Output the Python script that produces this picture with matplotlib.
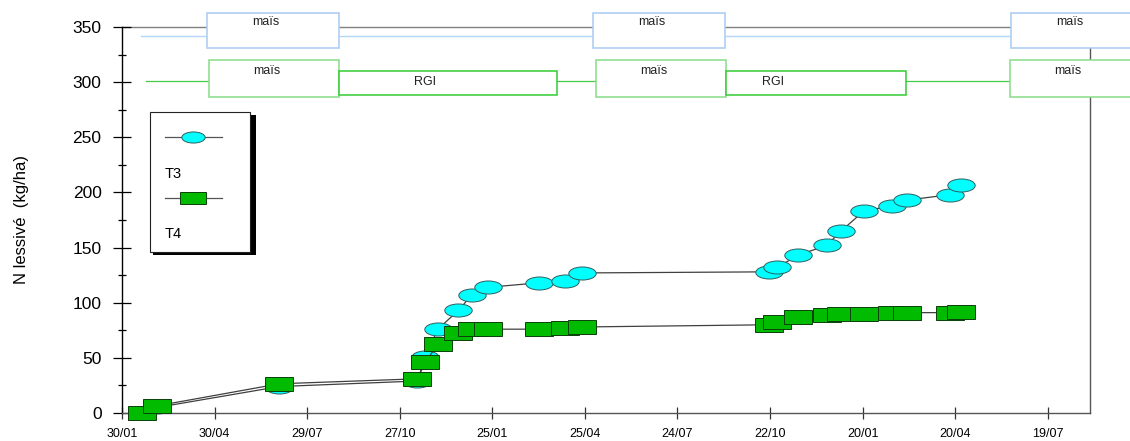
import matplotlib
matplotlib.use("Agg")
import matplotlib.pyplot as plt
import matplotlib.dates as mdates
from matplotlib.markers import MarkerStyle
from matplotlib.transforms import Affine2D
from matplotlib.patches import Rectangle
from matplotlib.lines import Line2D
import numpy as np

plt.rcParams["font.family"] = ["Liberation Sans", "DejaVu Sans"]

# ── data ─────────────────────────────────────────────────────────────────────
dates = ["1997-02-18", "1997-03-05", "1997-07-02", "1997-11-13", "1997-11-21",
         "1997-12-03", "1997-12-23", "1998-01-05", "1998-01-21", "1998-03-11",
         "1998-04-06", "1998-04-22", "1998-10-21", "1998-10-29", "1998-11-18",
         "1998-12-16", "1998-12-30", "1999-01-21", "1999-02-18", "1999-03-04",
         "1999-04-15", "1999-04-26"]
t3 = [0, 5, 24, 29, 51, 76, 93, 107, 114, 118, 120, 127,
      128, 132, 143, 152, 165, 183, 188, 193, 198, 207]
t4 = [0, 6.5, 26.5, 31, 46, 62.5, 72.5, 76, 76, 76, 77, 78,
      80, 82.5, 87, 89, 90, 90, 90.5, 91, 91, 92]

tick_dates = ["1997-01-30", "1997-04-30", "1997-07-29", "1997-10-27",
              "1998-01-25", "1998-04-25", "1998-07-24", "1998-10-22",
              "1999-01-20", "1999-04-20", "1999-07-19"]

# crop rotation rows: (label, start, end, label offset in days)
crops_t3 = [("maïs", "1997-04-23", "1997-08-29", 57),
            ("maïs", "1998-05-03", "1998-09-08", 57),
            ("maïs", "1999-06-13", "1999-10-20", 57)]
crops_t4 = [("maïs", "1997-04-25", "1997-08-29", 56),
            ("RGI", "1997-08-29", "1998-03-29", 84),
            ("maïs", "1998-05-06", "1998-09-09", 56),
            ("RGI", "1998-09-09", "1999-03-03", 46),
            ("maïs", "1999-06-12", "1999-10-20", 56)]

W, H = 1130, 441
fig = plt.figure(figsize=(W / 100, H / 100), dpi=100)
ax = fig.add_axes([122 / W, 28 / H, (1090 - 122) / W, (413 - 27) / H])

x = mdates.datestr2num(dates)

ell = MarkerStyle("o", transform=Affine2D().scale(2.1, 1.0))
sq = MarkerStyle("s", transform=Affine2D().scale(2.0, 1.0))

ax.plot(x, t3, color="#404040", lw=0.9, marker=ell, ms=9.4,
        mfc="#00ffff", mec="#2f5f5f", mew=0.7, zorder=3, clip_on=False)
ax.plot(x, t4, color="#404040", lw=0.9, marker=sq, ms=9.8,
        mfc="#00bb00", mec="#0a400a", mew=0.7, zorder=4, clip_on=False)

x0 = mdates.datestr2num("1997-01-30")
x1 = mdates.datestr2num("1999-08-29")
ax.set_xlim(x0, x1)
ax.set_ylim(0, 350)

# ── crop rotation timeline on top ────────────────────────────────────────────
far = mdates.datestr2num("2000-03-01")
ax.plot([x0, far], [350, 350], color="#808080", lw=1, clip_on=False, zorder=1)
ax.plot([mdates.datestr2num("1997-02-17"), far], [342, 342],
        color="#b4d6f8", lw=1, clip_on=False, zorder=1)
ax.plot([mdates.datestr2num("1997-02-22"), far], [301, 301],
        color="#44cc44", lw=0.9, clip_on=False, zorder=1)

for lab, s, e, off in crops_t3:
    a, b = mdates.datestr2num([s, e])
    ax.add_patch(Rectangle((a, 331), b - a, 31.5, fc="white", ec="#a8ccf4",
                           lw=1.1, clip_on=False, zorder=5))
    ax.text(a + off, 354.5, lab, fontsize=9, ha="center", va="center",
            color="#222222", clip_on=False, zorder=6)

for lab, s, e, off in crops_t4:
    a, b = mdates.datestr2num([s, e])
    if lab == "RGI":
        ax.add_patch(Rectangle((a, 288.5), b - a, 21.5, fc="white", ec="#33cc33",
                               lw=1.1, clip_on=False, zorder=5))
        ax.text(a + off, 300.5, lab, fontsize=9, ha="center", va="center",
                color="#222222", clip_on=False, zorder=6)
    else:
        ax.add_patch(Rectangle((a, 286.5), b - a, 33.5, fc="white", ec="#88dd88",
                               lw=1.1, clip_on=False, zorder=5))
        ax.text(a + off, 310, lab, fontsize=9, ha="center", va="center",
                color="#222222", clip_on=False, zorder=6)

# ── axes styling ─────────────────────────────────────────────────────────────
ax.spines["top"].set_visible(False)
ax.spines["left"].set_color("black")
ax.spines["bottom"].set_color("#555555")
ax.spines["right"].set_color("#555555")
for sp in ax.spines.values():
    sp.set_linewidth(1.0)

ax.set_xticks(mdates.datestr2num(tick_dates))
ax.xaxis.set_major_formatter(mdates.DateFormatter("%d/%m"))
ax.set_yticks(np.arange(0, 351, 50))
ax.set_yticks(np.arange(25, 350, 50), minor=True)
ax.tick_params(axis="y", which="major", direction="inout", length=13.5,
               width=0.9, labelsize=12.5, pad=8)
ax.tick_params(axis="y", which="minor", direction="inout", length=6, width=0.9)
ax.tick_params(axis="x", which="major", direction="inout", length=9,
               width=0.9, labelsize=9, pad=6)
ax.tick_params(axis="x", colors="#333333", labelcolor="black")
ax.set_ylabel("N lessivé  (kg/ha)", fontsize=12)
ax.yaxis.set_label_coords(-93 / (1090 - 122), 0.5)

# ── legend box drawn by hand ─────────────────────────────────────────────────
def fx(px):
    return px / W

def fy(py):
    return 1 - py / H

fig.patches.append(Rectangle((fx(153), fy(255)), fx(256) - fx(153), fy(115) - fy(255),
                             transform=fig.transFigure, fc="black", ec="none", zorder=5))
fig.patches.append(Rectangle((fx(150), fy(252)), fx(250) - fx(150), fy(112) - fy(252),
                             transform=fig.transFigure, fc="white", ec="#222222",
                             lw=0.8, zorder=6))
fig.lines.append(Line2D([fx(165), fx(222)], [fy(137), fy(137)], transform=fig.transFigure,
                        color="#555555", lw=0.9, zorder=7))
fig.lines.append(Line2D([fx(193)], [fy(137)], transform=fig.transFigure, ls="none",
                        marker=ell, ms=8.0, mfc="#00ffff", mec="#2f5f5f", mew=0.7,
                        zorder=8))
fig.lines.append(Line2D([fx(165), fx(222)], [fy(198), fy(198)], transform=fig.transFigure,
                        color="#555555", lw=0.9, zorder=7))
fig.lines.append(Line2D([fx(193)], [fy(198)], transform=fig.transFigure, ls="none",
                        marker=sq, ms=9.2, mfc="#00bb00", mec="#0a400a", mew=0.7,
                        zorder=8))
fig.text(fx(165), fy(174), "T3", fontsize=10.5, va="center", ha="left", zorder=9)
fig.text(fx(165), fy(234), "T4", fontsize=10.5, va="center", ha="left", zorder=9)

fig.savefig("out.png", dpi=100)
